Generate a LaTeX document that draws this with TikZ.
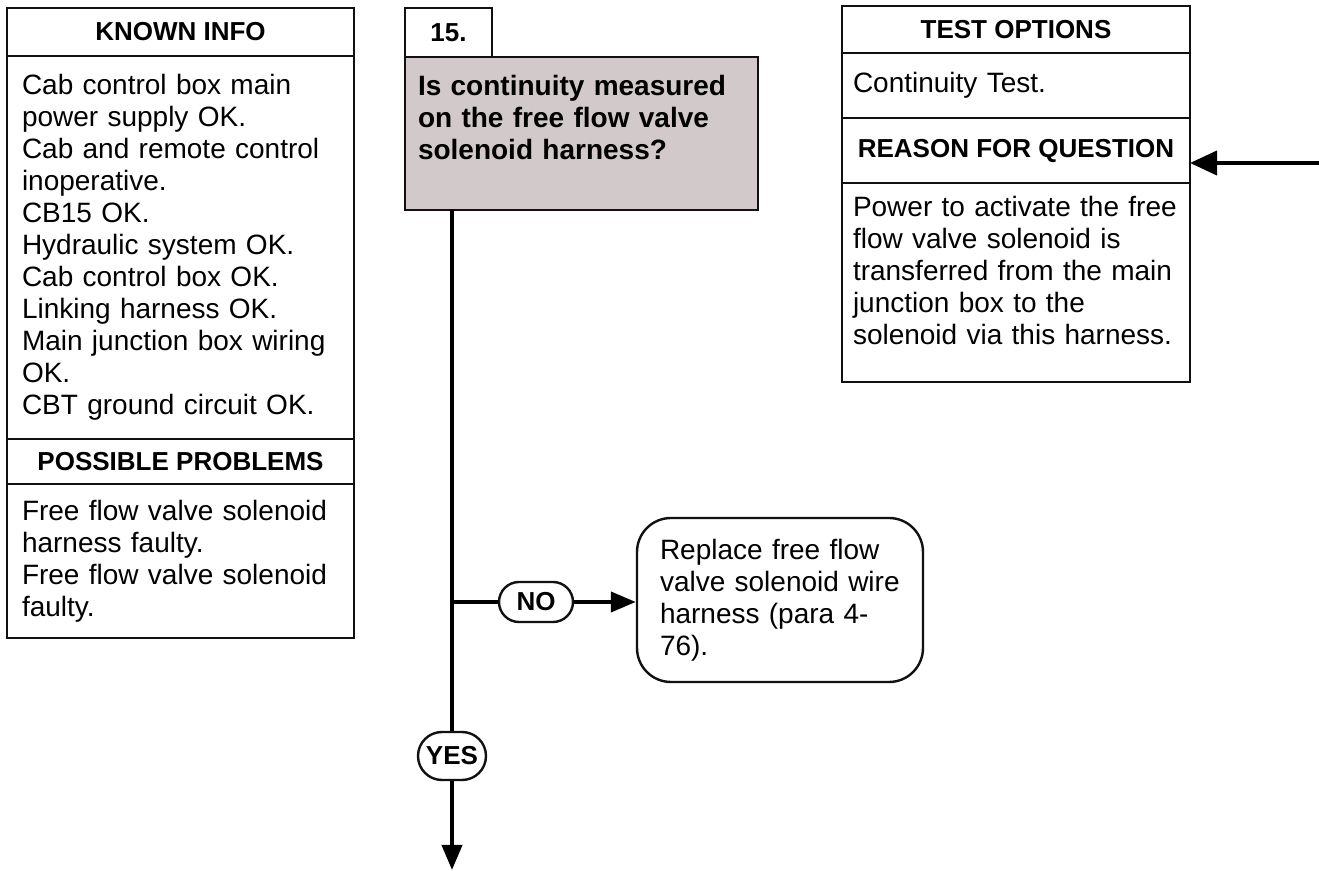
\documentclass[tikz,border=0pt]{standalone}
\usepackage{fontspec}
\usepackage{xcolor}
\usepackage{tikz}
\usetikzlibrary{arrows.meta, positioning, calc}
\newfontfamily\arialish{Liberation Sans}
\definecolor{qgray}{HTML}{D2CACA}
\definecolor{inkline}{HTML}{111111}
\tikzset{
  hbox/.style={draw=inkline, line width=1.2pt, align=center, inner sep=0pt, outer sep=0pt,
    font=\arialish\bfseries\fontsize{13}{15}\selectfont},
  tbox/.style={draw=inkline, line width=1.2pt, align=left, inner ysep=0pt, outer sep=0pt,
    font=\arialish\fontsize{14}{16}\selectfont},
  qbox/.style={draw=inkline, fill=qgray, line width=1.2pt, align=left, inner ysep=0pt, outer sep=0pt,
    font=\arialish\bfseries\fontsize{14}{16}\selectfont},
  pill/.style={draw=inkline, line width=1.2pt, inner sep=0pt,
    font=\arialish\bfseries\fontsize{13}{15}\selectfont},
  endbox/.style={draw=inkline, line width=1.2pt, rounded corners=17pt, align=left,
    minimum width=143pt, minimum height=82pt, text width=120pt, inner xsep=11.5pt,
    font=\arialish\fontsize{14}{16}\selectfont},
  line/.style={draw=black, line width=2pt},
  flow/.style={-{Triangle[length=12.5pt, width=10pt]}, draw=black, line width=2pt}
}
\begin{document}
\begin{tikzpicture}[x=0.5pt, y=-0.5pt]
\useasboundingbox (0,0) rectangle (1319,871);
\node[hbox, anchor=north west, minimum width=173.5pt, minimum height=24pt] (kihead) at (7,8) {KNOWN INFO};
\node[tbox, below=0pt of kihead, text width=158.5pt, inner xsep=7.5pt, minimum height=191.5pt] (kibody) {Cab control box main\\power supply OK.\\Cab and remote control\\inoperative.\\CB15 OK.\\Hydraulic system OK.\\Cab control box OK.\\Linking harness OK.\\Main junction box wiring\\OK.\\CBT ground circuit OK.};
\node[hbox, below=0pt of kibody, minimum width=173.5pt, minimum height=22.5pt] (pphead) {POSSIBLE PROBLEMS};
\node[tbox, below=0pt of pphead, text width=158.5pt, inner xsep=7.5pt, minimum height=77pt] (ppbody) {Free flow valve solenoid\\harness faulty.\\Free flow valve solenoid\\faulty.};
\node[hbox, anchor=north west, minimum width=43.5pt, minimum height=24.5pt] (stepno) at (405,8) {15.};
\node[qbox, anchor=north west, text width=163.5pt, inner xsep=6.5pt, minimum height=76.5pt] (question) at (stepno.south west) {Is continuity measured\\on the free flow valve\\solenoid harness?\\\mbox{}};
\node[hbox, anchor=north west, minimum width=174pt, minimum height=23.5pt] (tohead) at (842,6) {TEST OPTIONS};
\node[tbox, below=0pt of tohead, text width=163pt, inner xsep=5.5pt, minimum height=32.5pt] (tobody) {Continuity Test.};
\node[hbox, below=0pt of tobody, minimum width=174pt, minimum height=32.5pt] (rsnhead) {REASON FOR QUESTION};
\node[tbox, below=0pt of rsnhead, text width=163pt, inner xsep=5.5pt, minimum height=99.5pt] (rsnbody) {Power to activate the free\\flow valve solenoid is\\transferred from the main\\junction box to the\\solenoid via this harness.\\[-4pt]\mbox{}};
\node[pill, rounded corners=10pt, minimum width=37pt, minimum height=20pt] (nopill) at (536,602) {NO};
\node[pill, rounded corners=12pt, minimum width=34pt, minimum height=24pt] (yespill) at (452,756) {YES};
\node[endbox] (fix) at (780,600) {Replace free flow\\valve solenoid wire\\harness (para 4-\\76).};
\coordinate (rsnin) at (1319,163);
\coordinate (stemend) at (452,870);
\draw[line] (question.south -| yespill) -- (yespill);
\draw[flow] (yespill) -- (stemend);
\draw[line] (nopill -| yespill) -- (nopill);
\draw[flow] (nopill) -- (nopill -| fix.west);
\draw[-{Triangle[length=13.5pt, width=12pt]}, line width=2pt] (rsnin) -- (rsnin -| rsnhead.east);
\end{tikzpicture}
\end{document}
